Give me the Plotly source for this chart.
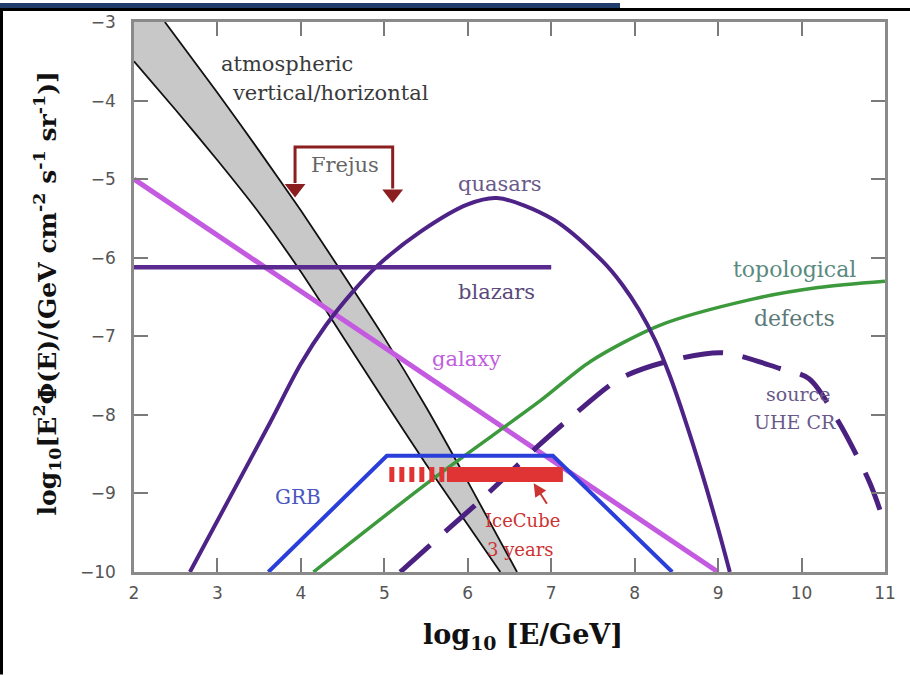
import plotly.graph_objects as go

# ---------------- data ----------------
atm_upper_x = [2.37, 3.0, 3.5, 4.0, 4.5, 5.0, 5.5, 6.0, 6.59]
atm_upper_y = [-3.0, -3.9, -4.64, -5.4, -6.2, -7.02, -7.9, -8.85, -10.0]
atm_lower_x = [2.0, 2.5, 3.0, 3.5, 4.0, 4.5, 5.0, 5.5, 6.0, 6.39]
atm_lower_y = [-3.5, -4.12, -4.76, -5.43, -6.18, -7.0, -7.82, -8.63, -9.4, -10.0]

frejus_x = [3.93, 3.93, 5.10, 5.10]
frejus_y = [-5.05, -4.59, -4.59, -5.12]
frejus_tip_x = [3.93, 5.10]
frejus_tip_y = [-5.12, -5.19]

quasars_x = [2.67, 3.15, 3.63, 4.0, 4.3, 4.6, 4.91, 5.43, 6.0, 6.35, 7.02, 7.62, 7.85, 8.05, 8.25, 8.42, 8.6, 8.8, 9.0, 9.14]
quasars_y = [-10.0, -9.05, -8.1, -7.35, -6.86, -6.46, -6.11, -5.67, -5.32, -5.24, -5.51, -6.05, -6.34, -6.66, -7.06, -7.5, -8.05, -8.72, -9.45, -10.0]

blazars_x = [2.0, 7.0]
blazars_y = [-6.12, -6.12]

galaxy_x = [2.0, 9.0]
galaxy_y = [-5.0, -10.0]

topo_x = [4.15, 5.55, 6.87, 7.47, 8.3, 9.4, 10.2, 11.0]
topo_y = [-10.0, -8.84, -7.82, -7.32, -6.86, -6.53, -6.38, -6.3]

grb_x = [3.61, 5.03, 7.02, 8.45]
grb_y = [-10.0, -8.52, -8.52, -10.0]

uhe_x = [5.19, 5.79, 6.15, 6.87, 7.26, 7.82, 8.39, 9.06, 9.74, 10.09, 10.45, 10.82, 11.0]
uhe_y = [-10.0, -9.43, -9.09, -8.37, -8.01, -7.54, -7.32, -7.21, -7.41, -7.54, -8.10, -8.87, -9.4]

icecube_dash_x = [5.06, 5.75]
icecube_solid_x = [5.75, 7.14]
icecube_y = -8.76

x_ticks = [2, 3, 4, 5, 6, 7, 8, 9, 10, 11]
y_ticks = [-3, -4, -5, -6, -7, -8, -9, -10]

label_texts = ["atmospheric", "vertical/horizontal", "Frejus", "quasars", "blazars", "galaxy",
               "topological", "defects", "source", "UHE CR", "GRB", "IceCube", "3 years"]
label_x = [3.83, 4.36, 4.53, 6.39, 6.35, 5.99, 9.92, 9.92, 9.96, 9.92, 3.97, 6.65, 6.63]
label_y = [-3.54, -3.9, -4.82, -5.06, -6.44, -7.29, -6.15, -6.77, -7.73, -8.09, -9.05, -9.34, -9.71]

icecube_arrow = (6.96, -9.15, 6.79, -8.87)  # tail x, tail y, head x, head y

# ---------------- styles ----------------
label_style = {
    "atmospheric": ("#3a3a3a", 21),
    "vertical/horizontal": ("#3a3a3a", 21),
    "Frejus": ("#666666", 21),
    "quasars": ("#6a5a8a", 21),
    "blazars": ("#5a4a7a", 21),
    "galaxy": ("#c060e0", 21),
    "topological": ("#5a8a80", 22),
    "defects": ("#5a7a78", 22),
    "source": ("#6a5a8a", 19),
    "UHE CR": ("#6a5a8a", 19),
    "GRB": ("#4a55c0", 20),
    "IceCube": ("#cc3333", 18),
    "3 years": ("#cc3333", 18),
}

# ---------------- figure ----------------
fig = go.Figure()

# atmospheric band fill
fill_x = atm_upper_x + atm_lower_x[::-1] + [2.0]
fill_y = atm_upper_y + atm_lower_y[::-1] + [-3.0]
fig.add_trace(go.Scatter(x=fill_x, y=fill_y, fill="toself", fillcolor="#c8c8c8",
                         line=dict(width=0), mode="lines", hoverinfo="skip"))
fig.add_trace(go.Scatter(x=atm_upper_x, y=atm_upper_y, mode="lines",
                         line=dict(color="#111111", width=1.8, shape="spline", smoothing=0.6)))
fig.add_trace(go.Scatter(x=atm_lower_x, y=atm_lower_y, mode="lines",
                         line=dict(color="#111111", width=1.8, shape="spline", smoothing=0.6)))

# galaxy
fig.add_trace(go.Scatter(x=galaxy_x, y=galaxy_y, mode="lines", line=dict(color="#c45ae0", width=5)))

# topological defects
fig.add_trace(go.Scatter(x=topo_x, y=topo_y, mode="lines",
                         line=dict(color="#3c9a3c", width=3.5, shape="spline", smoothing=0.8)))

# quasars
fig.add_trace(go.Scatter(x=quasars_x, y=quasars_y, mode="lines",
                         line=dict(color="#4e2388", width=4, shape="spline", smoothing=0.9)))

# blazars
fig.add_trace(go.Scatter(x=blazars_x, y=blazars_y, mode="lines", line=dict(color="#5a2a90", width=4.5)))

# source UHE CR
fig.add_trace(go.Scatter(x=uhe_x, y=uhe_y, mode="lines",
                         line=dict(color="#4a2080", width=5, dash="40px,20px", shape="spline", smoothing=0.8)))

# GRB
fig.add_trace(go.Scatter(x=grb_x, y=grb_y, mode="lines", line=dict(color="#2a3fd9", width=4)))

# IceCube
fig.add_trace(go.Scatter(x=icecube_dash_x, y=[icecube_y, icecube_y], mode="lines",
                         line=dict(color="#e03434", width=15, dash="5px,5px")))
fig.add_trace(go.Scatter(x=icecube_solid_x, y=[icecube_y, icecube_y], mode="lines",
                         line=dict(color="#e03434", width=15)))

# Frejus bracket
fig.add_trace(go.Scatter(x=frejus_x, y=frejus_y, mode="lines", line=dict(color="#8b1e1e", width=3)))
fig.add_trace(go.Scatter(x=frejus_tip_x, y=frejus_tip_y, mode="markers",
                         marker=dict(symbol="triangle-down", size=18, color="#8b1e1e")))

annotations = []
for text, x, y in zip(label_texts, label_x, label_y):
    col, size = label_style[text]
    annotations.append(dict(x=x, y=y, text=text, showarrow=False, xref="x", yref="y",
                            xanchor="center", yanchor="middle",
                            font=dict(family="DejaVu Serif", size=size, color=col)))
tx, ty, hx, hy = icecube_arrow
annotations.append(dict(x=hx, y=hy, ax=tx, ay=ty, xref="x", yref="y", axref="x", ayref="y",
                        text="", showarrow=True, arrowhead=2, arrowsize=1.3, arrowwidth=2,
                        arrowcolor="#cc3333"))

# axis titles
annotations.append(dict(x=(523 - 134) / 751, y=(572 - 637) / 553, xref="paper", yref="paper",
                        xanchor="center", yanchor="middle",
                        text="<b>log<sub>10</sub> [E/GeV]</b>", showarrow=False,
                        font=dict(family="DejaVu Serif", size=27, color="#111111")))
annotations.append(dict(x=(47 - 134) / 751, y=(572 - 292) / 553, xref="paper", yref="paper",
                        xanchor="center", yanchor="middle",
                        text="<b>log<sub>10</sub>[E<sup>2</sup>\u03a6(E)/(GeV cm<sup>-2</sup> s<sup>-1</sup> sr<sup>-1</sup>)]</b>",
                        textangle=-90, showarrow=False,
                        font=dict(family="DejaVu Serif", size=25, color="#111111")))

axis_common = dict(showgrid=False, zeroline=False, showline=True, linecolor="#8a8a8a", linewidth=2.5,
                   mirror="ticks", ticks="inside", ticklen=14, tickwidth=2, tickcolor="#7a7a7a",
                   tickfont=dict(family="DejaVu Sans", size=17, color="#555555"))

fig.update_layout(
    width=910, height=675,
    margin=dict(l=134, r=25, t=19, b=103),
    paper_bgcolor="white", plot_bgcolor="white",
    showlegend=False,
    xaxis=dict(range=[2, 11], tickvals=x_ticks, ticktext=[str(v) for v in x_ticks],
               ticklabelstandoff=4, **axis_common),
    yaxis=dict(range=[-10, -3], tickvals=y_ticks, ticktext=["\u2212" + str(abs(v)) for v in y_ticks],
               ticklabelstandoff=12, **axis_common),
    annotations=annotations,
    shapes=[
        dict(type="rect", xref="paper", yref="paper", x0=-134 / 751, x1=(620 - 134) / 751,
             y0=(572 - 5) / 553, y1=572 / 553, fillcolor="#203c6c", line=dict(width=0), layer="above"),
        dict(type="rect", xref="paper", yref="paper", x0=-134 / 751, x1=(910 - 134) / 751,
             y0=(572 - 8) / 553, y1=(572 - 5) / 553, fillcolor="#000000", line=dict(width=0), layer="above"),
        dict(type="rect", xref="paper", yref="paper", x0=-134 / 751, x1=(3 - 134) / 751,
             y0=(572 - 675) / 553, y1=(572 - 5) / 553, fillcolor="#000000", line=dict(width=0), layer="above"),
    ],
)

fig.write_html("out.html", config={"displayModeBar": False},
               post_script="document.body.style.margin='0px';")
